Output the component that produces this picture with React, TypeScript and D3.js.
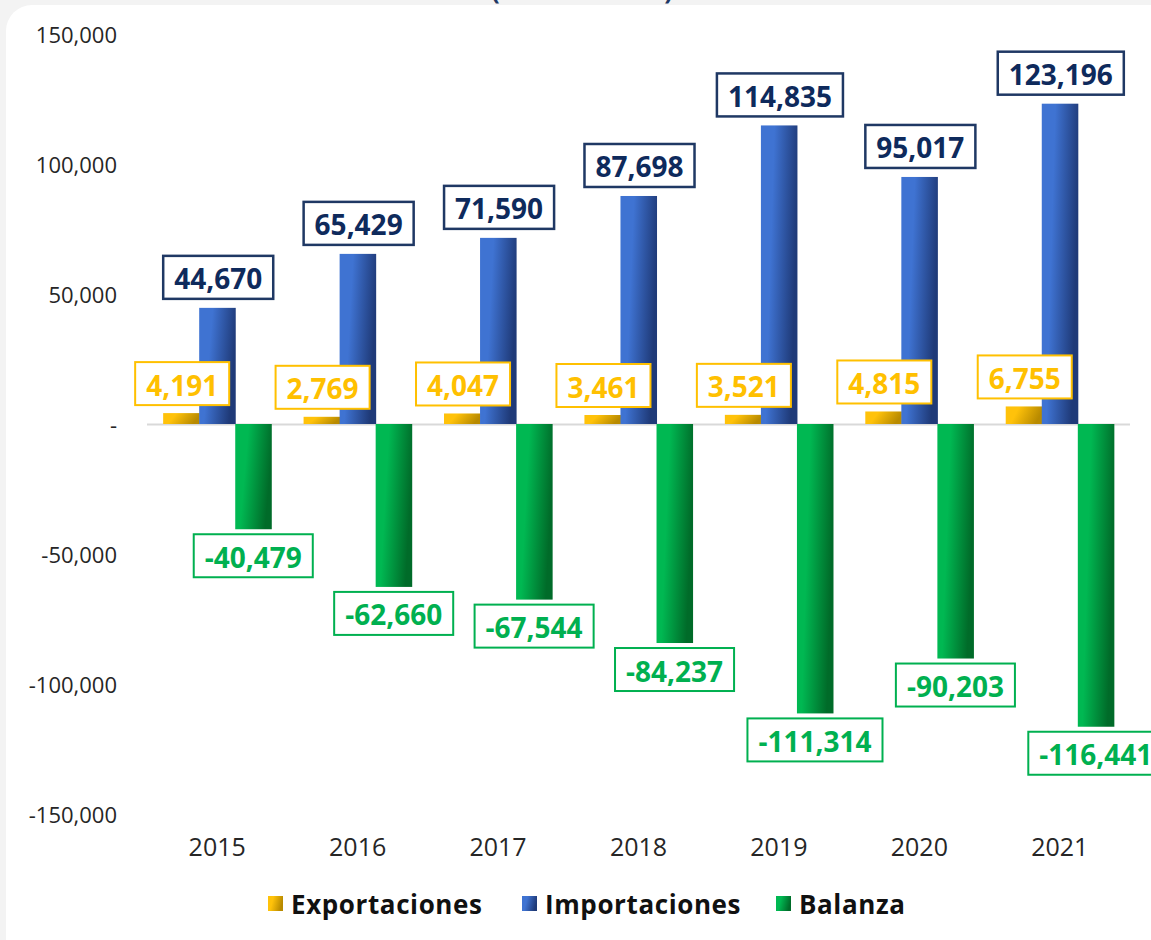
import React from 'react';
import * as d3 from 'd3';

const years = ['2015', '2016', '2017', '2018', '2019', '2020', '2021'];
const exportaciones = [4191, 2769, 4047, 3461, 3521, 4815, 6755];
const importaciones = [44670, 65429, 71590, 87698, 114835, 95017, 123196];
const balanza = [-40479, -62660, -67544, -84237, -111314, -90203, -116441];
const seriesNames = ['Exportaciones', 'Importaciones', 'Balanza'];
const yTicks = [-150000, -100000, -50000, 0, 50000, 100000, 150000];

const W = 1151;
const H = 940;

const seriesStyle: Record<string, { id: string; c1: string; c2: string; text: string; border: string }> = {
  Exportaciones: { id: 'gExp', c1: '#ffc20a', c2: '#b88a00', text: '#ffc000', border: '#ffc000' },
  Importaciones: { id: 'gImp', c1: '#3f73d2', c2: '#1f3a78', text: '#0e2a5c', border: '#1f3864' },
  Balanza: { id: 'gBal', c1: '#00b852', c2: '#006b29', text: '#00b050', border: '#00b050' },
};

const d3fmt = d3.format(',');
const fmt = (v: number) => d3fmt(v).replace('\u2212', '-');

let ctx: CanvasRenderingContext2D | null = null;
function measure(text: string, font: string): number {
  if (!ctx) {
    const c = document.createElement('canvas');
    ctx = c.getContext('2d');
  }
  if (!ctx) return text.length * 15;
  ctx.font = font;
  return ctx.measureText(text).width;
}

const LABEL_FONT_FAMILY = "'Open Sans', sans-serif";
const LABEL_FS = 28;

export default function App() {
  const x0 = d3
    .scaleBand<string>()
    .domain(years)
    .range([147, 1130])
    .paddingInner(0.23)
    .paddingOuter(0.115);
  const x1 = d3.scaleBand<string>().domain(seriesNames).range([0, x0.bandwidth()]);
  const y = d3.scaleLinear().domain([-150000, 150000]).range([814, 34]);

  const dataBySeries: Record<string, number[]> = {
    Exportaciones: exportaciones,
    Importaciones: importaciones,
    Balanza: balanza,
  };

  const bars: React.ReactNode[] = [];
  const labels: React.ReactNode[] = [];
  const boxH = 43;
  const font = `700 ${LABEL_FS}px ${LABEL_FONT_FAMILY}`;

  years.forEach((yr, i) => {
    seriesNames.forEach((s) => {
      const v = dataBySeries[s][i];
      const bx = (x0(yr) as number) + (x1(s) as number);
      const bw = x1.bandwidth();
      const top = y(Math.max(0, v));
      const bottom = y(Math.min(0, v));
      const st = seriesStyle[s];
      bars.push(
        <rect key={`b-${yr}-${s}`} x={bx} y={top} width={bw + 0.5} height={bottom - top} fill={`url(#${st.id})`} />
      );
      const txt = fmt(v);
      const tw = measure(txt, font);
      const bwBox = tw + 22;
      let cx: number;
      let by: number;
      if (s === 'Importaciones') {
        cx = (x0(yr) as number) + x0.bandwidth() / 2 + 1;
        by = top - 9 - boxH;
      } else if (s === 'Exportaciones') {
        cx = bx + bw / 2 + 1;
        by = top - 8 - boxH;
      } else {
        cx = bx + bw / 2;
        by = bottom + 5;
      }
      labels.push(
        <g key={`l-${yr}-${s}`}>
          <rect
            x={cx - bwBox / 2}
            y={by}
            width={bwBox}
            height={boxH}
            fill="#ffffff"
            stroke={st.border}
            strokeWidth={s === 'Importaciones' ? 2.5 : 2}
          />
          <text
            x={cx}
            y={by + boxH / 2 + 1}
            textAnchor="middle"
            dominantBaseline="central"
            fill={st.text}
            fontFamily={LABEL_FONT_FAMILY}
            fontWeight={700}
            fontSize={LABEL_FS}
          >
            {txt}
          </text>
        </g>
      );
    });
  });

  const legendItems = [
    { name: 'Exportaciones', sx: 268, tx: 291 },
    { name: 'Importaciones', sx: 522, tx: 545 },
    { name: 'Balanza', sx: 776, tx: 799 },
  ];

  return (
    <svg
      width={W}
      height={H}
      style={{ position: 'absolute', left: 0, top: 0, display: 'block' }}
      xmlns="http://www.w3.org/2000/svg"
    >
      <defs>
        {seriesNames.map((s) => {
          const st = seriesStyle[s];
          return (
            <linearGradient key={st.id} id={st.id} x1="0" y1="0" x2="1" y2="0.25">
              <stop offset="0" stopColor={st.c1} />
              <stop offset="0.35" stopColor={st.c1} />
              <stop offset="1" stopColor={st.c2} />
            </linearGradient>
          );
        })}
      </defs>
      <rect x={0} y={0} width={W} height={H} fill="#f3f3f3" />
      <text
        x={582}
        y={-1}
        textAnchor="middle"
        fill="#1f3864"
        fontFamily={LABEL_FONT_FAMILY}
        fontWeight={700}
        fontSize={26}
        textLength={182}
        lengthAdjust="spacingAndGlyphs"
      >
        (Millones US$)
      </text>
      <rect x={6} y={5} width={1170} height={970} rx={26} ry={26} fill="#ffffff" />

      {/* y axis tick labels */}
      {yTicks.map((t) => (
        <text
          key={`yt-${t}`}
          x={117}
          y={y(t)}
          textAnchor="end"
          dominantBaseline="central"
          fill="#262626"
          fontFamily="'Open Sans', sans-serif"
          fontSize={22}
        >
          {t === 0 ? '-' : fmt(t)}
        </text>
      ))}

      {/* zero line */}
      <line x1={147} x2={1130} y1={y(0) + 0.5} y2={y(0) + 0.5} stroke="#d9d9d9" strokeWidth={2} />

      {bars}
      {labels}

      {/* x labels */}
      {years.map((yr) => (
        <text
          key={`xl-${yr}`}
          x={(x0(yr) as number) + x0.bandwidth() / 2}
          y={846}
          textAnchor="middle"
          dominantBaseline="central"
          fill="#262626"
          fontFamily="'Open Sans', sans-serif"
          fontSize={25}
        >
          {yr}
        </text>
      ))}

      {/* legend */}
      {legendItems.map((it) => (
        <g key={`lg-${it.name}`}>
          <rect x={it.sx} y={896} width={15} height={15} fill={`url(#${seriesStyle[it.name].id})`} />
          <text
            x={it.tx}
            y={904}
            dominantBaseline="central"
            fill="#111111"
            fontFamily="'Open Sans', sans-serif"
            fontWeight={700}
            fontSize={26}
            letterSpacing={0.6}
          >
            {it.name}
          </text>
        </g>
      ))}
    </svg>
  );
}
